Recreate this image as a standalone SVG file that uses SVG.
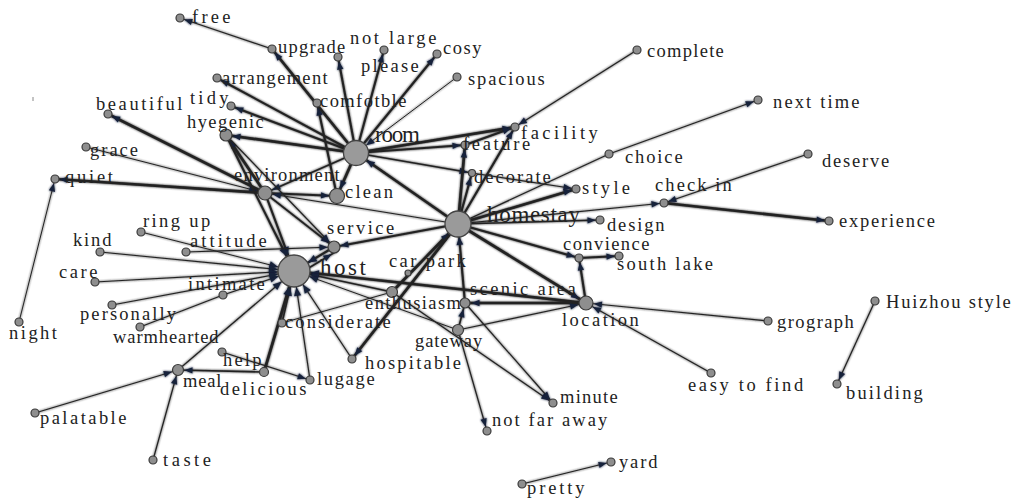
<svg xmlns="http://www.w3.org/2000/svg" width="1014" height="498" viewBox="0 0 1014 498">
<style>
.e{stroke:#222;fill:none;stroke-linecap:round}
.t1{stroke-width:1}
.t12{stroke-width:1.2}
.t15{stroke-width:1.6}
.t2{stroke-width:2.1}
.t25{stroke-width:2.7}
circle{fill:#8e8e8e;stroke:#3a3a3a;stroke-width:1.2}
circle.b{fill:#9a9a9a;stroke:#444;stroke-width:1.3}
text{font-family:"Liberation Serif","DejaVu Serif",serif;font-size:18.5px;fill:#222}
text.big{font-size:23px}
.ah{fill:#17203a}
</style>
<defs>
<filter id="soft" x="-5%" y="-5%" width="110%" height="110%"><feGaussianBlur in="SourceGraphic" stdDeviation="0.9" result="b"/><feMerge><feMergeNode in="b"/><feMergeNode in="SourceGraphic"/></feMerge></filter>
<marker id="a4" markerUnits="userSpaceOnUse" markerWidth="20" markerHeight="10" orient="auto" refX="0" refY="0" style="overflow:visible"><path class="ah" d="M-4.5,0 L-12.5,-3.2 L-12.5,3.2 Z"/></marker>
<marker id="a6" markerUnits="userSpaceOnUse" markerWidth="20" markerHeight="10" orient="auto" refX="0" refY="0" style="overflow:visible"><path class="ah" d="M-6.5,0 L-14.5,-3.2 L-14.5,3.2 Z"/></marker>
<marker id="a8" markerUnits="userSpaceOnUse" markerWidth="20" markerHeight="10" orient="auto" refX="0" refY="0" style="overflow:visible"><path class="ah" d="M-8,0 L-16,-3.2 L-16,3.2 Z"/></marker>
<marker id="a13" markerUnits="userSpaceOnUse" markerWidth="20" markerHeight="10" orient="auto" refX="0" refY="0" style="overflow:visible"><path class="ah" d="M-13,0 L-21,-3.4 L-21,3.4 Z"/></marker>
<marker id="a16" markerUnits="userSpaceOnUse" markerWidth="20" markerHeight="10" orient="auto" refX="0" refY="0" style="overflow:visible"><path class="ah" d="M-16.5,0 L-25,-3.6 L-25,3.6 Z"/></marker>
</defs>
<rect width="1014" height="498" fill="#fff"/>
<line x1="33" y1="97" x2="33" y2="101" stroke="#888" stroke-width="1"/>
<g id="connectors" filter="url(#soft)">
<line class="e t25" x1="356" y1="153" x2="272" y2="49" marker-end="url(#a4)"/>
<line class="e t12" x1="272" y1="49" x2="180" y2="18" marker-end="url(#a4)"/>
<line class="e t2" x1="356" y1="153" x2="338" y2="57" marker-end="url(#a4)"/>
<line class="e t2" x1="356" y1="153" x2="384" y2="50" marker-end="url(#a4)"/>
<line class="e t2" x1="356" y1="153" x2="437" y2="54" marker-end="url(#a4)"/>
<line class="e t1" x1="457" y1="77" x2="356" y2="153" marker-end="url(#a13)"/>
<line class="e t2" x1="356" y1="153" x2="217" y2="78" marker-end="url(#a4)"/>
<line class="e t2" x1="356" y1="153" x2="231" y2="106" marker-end="url(#a4)"/>
<line class="e t25" x1="356" y1="153" x2="226" y2="135" marker-end="url(#a6)"/>
<line class="e t2" x1="337" y1="196" x2="317" y2="103" marker-end="url(#a4)"/>
<line class="e t25" x1="356" y1="153" x2="337" y2="196" marker-end="url(#a8)"/>
<line class="e t15" x1="356" y1="153" x2="265" y2="193" marker-end="url(#a8)"/>
<line class="e t25" x1="356" y1="153" x2="515" y2="127" marker-end="url(#a4)"/>
<line class="e t2" x1="356" y1="153" x2="465" y2="145" marker-end="url(#a4)"/>
<line class="e t15" x1="356" y1="153" x2="472" y2="173" marker-end="url(#a4)"/>
<line class="e t25" x1="458" y1="224" x2="356" y2="153" marker-end="url(#a13)"/>
<line class="e t25" x1="265" y1="193" x2="108" y2="114" marker-end="url(#a4)"/>
<line class="e t1" x1="86" y1="147" x2="265" y2="193" marker-end="url(#a8)"/>
<line class="e t25" x1="265" y1="193" x2="55" y2="179" marker-end="url(#a4)"/>
<line class="e t1" x1="19" y1="322" x2="55" y2="179" marker-end="url(#a4)"/>
<line class="e t25" x1="265" y1="193" x2="226" y2="135" marker-end="url(#a6)"/>
<line class="e t2" x1="265" y1="193" x2="337" y2="196" marker-end="url(#a8)"/>
<line class="e t12" x1="458" y1="224" x2="265" y2="193" marker-end="url(#a8)"/>
<line class="e t2" x1="265" y1="193" x2="294" y2="271" marker-end="url(#a16)"/>
<line class="e t15" x1="265" y1="193" x2="334" y2="247" marker-end="url(#a6)"/>
<line class="e t12" x1="226" y1="135" x2="334" y2="247" marker-end="url(#a6)"/>
<line class="e t2" x1="226" y1="135" x2="294" y2="271" marker-end="url(#a16)"/>
<line class="e t25" x1="458" y1="224" x2="465" y2="145" marker-end="url(#a4)"/>
<line class="e t2" x1="458" y1="224" x2="515" y2="127" marker-end="url(#a4)"/>
<line class="e t12" x1="637" y1="50" x2="515" y2="127" marker-end="url(#a4)"/>
<line class="e t2" x1="465" y1="145" x2="515" y2="127" marker-end="url(#a4)"/>
<line class="e t2" x1="458" y1="224" x2="472" y2="173" marker-end="url(#a4)"/>
<line class="e t12" x1="472" y1="173" x2="576" y2="189" marker-end="url(#a4)"/>
<line class="e t25" x1="458" y1="224" x2="576" y2="189" marker-end="url(#a4)"/>
<line class="e t12" x1="458" y1="224" x2="609" y2="154"/>
<line class="e t12" x1="609" y1="154" x2="758" y2="100" marker-end="url(#a4)"/>
<line class="e t12" x1="458" y1="224" x2="664" y2="203" marker-end="url(#a4)"/>
<line class="e t25" x1="664" y1="203" x2="829" y2="221" marker-end="url(#a4)"/>
<line class="e t12" x1="808" y1="154" x2="664" y2="203" marker-end="url(#a4)"/>
<line class="e t15" x1="458" y1="224" x2="600" y2="220" marker-end="url(#a4)"/>
<line class="e t2" x1="458" y1="224" x2="579" y2="258" marker-end="url(#a4)"/>
<line class="e t2" x1="579" y1="258" x2="619" y2="256" marker-end="url(#a4)"/>
<line class="e t2" x1="586" y1="303" x2="579" y2="258" marker-end="url(#a4)"/>
<line class="e t25" x1="458" y1="224" x2="586" y2="303" marker-end="url(#a8)"/>
<line class="e t2" x1="458" y1="224" x2="334" y2="247" marker-end="url(#a6)"/>
<line class="e t25" x1="392" y1="292" x2="458" y2="224" marker-end="url(#a13)"/>
<line class="e t25" x1="458" y1="224" x2="352" y2="359" marker-end="url(#a4)"/>
<line class="e t2" x1="465" y1="303" x2="458" y2="224" marker-end="url(#a13)"/>
<line class="e t15" x1="458" y1="330" x2="465" y2="303" marker-end="url(#a6)"/>
<line class="e t25" x1="586" y1="303" x2="465" y2="303" marker-end="url(#a6)"/>
<line class="e t12" x1="458" y1="330" x2="586" y2="303" marker-end="url(#a8)"/>
<line class="e t12" x1="711" y1="373" x2="586" y2="303" marker-end="url(#a8)"/>
<line class="e t12" x1="768" y1="321" x2="586" y2="303" marker-end="url(#a8)"/>
<line class="e t25" x1="586" y1="303" x2="294" y2="271" marker-end="url(#a16)"/>
<line class="e t15" x1="392" y1="292" x2="294" y2="271" marker-end="url(#a16)"/>
<line class="e t1" x1="282" y1="323" x2="392" y2="292"/>
<line class="e t12" x1="392" y1="292" x2="553" y2="403" marker-end="url(#a4)"/>
<line class="e t12" x1="465" y1="303" x2="553" y2="403" marker-end="url(#a4)"/>
<line class="e t12" x1="458" y1="330" x2="487" y2="431" marker-end="url(#a4)"/>
<line class="e t1" x1="458" y1="330" x2="294" y2="271" marker-end="url(#a16)"/>
<line class="e t2" x1="334" y1="247" x2="294" y2="271" marker-end="url(#a16)"/>
<line class="e t15" x1="297" y1="275" x2="337" y2="251" marker-end="url(#a6)"/>
<line class="e t1" x1="141" y1="232" x2="294" y2="271" marker-end="url(#a16)"/>
<line class="e t12" x1="186" y1="252" x2="334" y2="247" marker-end="url(#a6)"/>
<line class="e t12" x1="100" y1="252" x2="294" y2="271" marker-end="url(#a16)"/>
<line class="e t12" x1="95" y1="282" x2="294" y2="271" marker-end="url(#a16)"/>
<line class="e t12" x1="223" y1="295" x2="294" y2="271" marker-end="url(#a16)"/>
<line class="e t12" x1="140" y1="327" x2="223" y2="295"/>
<line class="e t12" x1="112" y1="305" x2="294" y2="271" marker-end="url(#a16)"/>
<line class="e t15" x1="282" y1="323" x2="294" y2="271" marker-end="url(#a16)"/>
<line class="e t12" x1="178" y1="370" x2="294" y2="271" marker-end="url(#a16)"/>
<line class="e t25" x1="264" y1="372" x2="294" y2="271" marker-end="url(#a16)"/>
<line class="e t15" x1="264" y1="372" x2="178" y2="370" marker-end="url(#a6)"/>
<line class="e t12" x1="35" y1="413" x2="178" y2="370" marker-end="url(#a6)"/>
<line class="e t12" x1="153" y1="460" x2="178" y2="370" marker-end="url(#a6)"/>
<line class="e t12" x1="222" y1="352" x2="310" y2="380" marker-end="url(#a4)"/>
<line class="e t12" x1="310" y1="380" x2="294" y2="271" marker-end="url(#a16)"/>
<line class="e t12" x1="352" y1="359" x2="294" y2="271" marker-end="url(#a16)"/>
<line class="e t12" x1="875" y1="301" x2="837" y2="384" marker-end="url(#a4)"/>
<line class="e t12" x1="522" y1="484" x2="611" y2="462" marker-end="url(#a4)"/>
</g>
<g id="n-free"><circle cx="180" cy="18" r="4"/><text x="192" y="23" textLength="38.4" lengthAdjust="spacing">free</text></g>
<g id="n-upgrade"><circle cx="272" cy="49" r="4"/><text x="278" y="53" textLength="67.2" lengthAdjust="spacing">upgrade</text></g>
<g id="n-notlarge"><circle cx="384" cy="50" r="4"/><text x="350" y="44" textLength="86.4" lengthAdjust="spacing">not large</text></g>
<g id="n-please"><circle cx="338" cy="57" r="4"/><text x="361" y="72" textLength="57.6" lengthAdjust="spacing">please</text></g>
<g id="n-cosy"><circle cx="437" cy="54" r="4"/><text x="443" y="54" textLength="38.4" lengthAdjust="spacing">cosy</text></g>
<g id="n-spacious"><circle cx="457" cy="77" r="4"/><text x="468" y="85" textLength="76.8" lengthAdjust="spacing">spacious</text></g>
<g id="n-arrangement"><circle cx="217" cy="78" r="4"/><text x="222" y="84" textLength="105.6" lengthAdjust="spacing">arrangement</text></g>
<g id="n-tidy"><circle cx="231" cy="106" r="4"/><text x="190" y="104" textLength="38.4" lengthAdjust="spacing">tidy</text></g>
<g id="n-comfotble"><circle cx="317" cy="103" r="4"/><text x="320" y="107" textLength="86.4" lengthAdjust="spacing">comfotble</text></g>
<g id="n-room"><circle class="b" cx="356" cy="153" r="12.5"/><text class="big" x="375" y="142" textLength="45" lengthAdjust="spacing">room</text></g>
<g id="n-beautiful"><circle cx="108" cy="114" r="4"/><text x="96" y="110" textLength="86.4" lengthAdjust="spacing">beautiful</text></g>
<g id="n-hyegenic"><circle cx="226" cy="135" r="6"/><text x="187" y="128" textLength="76.8" lengthAdjust="spacing">hyegenic</text></g>
<g id="n-grace"><circle cx="86" cy="147" r="4"/><text x="90" y="156" textLength="48" lengthAdjust="spacing">grace</text></g>
<g id="n-quiet"><circle cx="55" cy="179" r="4"/><text x="65" y="183" textLength="48" lengthAdjust="spacing">quiet</text></g>
<g id="n-environment"><circle cx="265" cy="193" r="7"/><text x="234" y="181" textLength="105.6" lengthAdjust="spacing">environment</text></g>
<g id="n-clean"><circle cx="337" cy="196" r="7.5"/><text x="345" y="198" textLength="48" lengthAdjust="spacing">clean</text></g>
<g id="n-facility"><circle cx="515" cy="127" r="4"/><text x="521" y="139" textLength="76.8" lengthAdjust="spacing">facility</text></g>
<g id="n-feature"><circle cx="465" cy="145" r="4"/><text x="463" y="150" textLength="67.2" lengthAdjust="spacing">feature</text></g>
<g id="n-complete"><circle cx="637" cy="50" r="4"/><text x="647" y="57" textLength="76.8" lengthAdjust="spacing">complete</text></g>
<g id="n-nexttime"><circle cx="758" cy="100" r="4"/><text x="773" y="108" textLength="86.4" lengthAdjust="spacing">next time</text></g>
<g id="n-choice"><circle cx="609" cy="154" r="4"/><text x="625" y="163" textLength="57.6" lengthAdjust="spacing">choice</text></g>
<g id="n-decorate"><circle cx="472" cy="173" r="3.5"/><text x="474" y="183" textLength="76.8" lengthAdjust="spacing">decorate</text></g>
<g id="n-style"><circle cx="576" cy="189" r="4"/><text x="582" y="194" textLength="48" lengthAdjust="spacing">style</text></g>
<g id="n-homestay"><circle class="b" cx="458" cy="224" r="13"/><text class="big" x="487" y="222" textLength="93" lengthAdjust="spacing">homestay</text></g>
<g id="n-checkin"><circle cx="664" cy="203" r="4"/><text x="655" y="191" textLength="76.8" lengthAdjust="spacing">check in</text></g>
<g id="n-deserve"><circle cx="808" cy="154" r="4"/><text x="822" y="167" textLength="67.2" lengthAdjust="spacing">deserve</text></g>
<g id="n-experience"><circle cx="829" cy="221" r="4"/><text x="839" y="227" textLength="96" lengthAdjust="spacing">experience</text></g>
<g id="n-design"><circle cx="600" cy="220" r="4"/><text x="607" y="231" textLength="57.6" lengthAdjust="spacing">design</text></g>
<g id="n-convience"><circle cx="579" cy="258" r="4"/><text x="563" y="250" textLength="86.4" lengthAdjust="spacing">convience</text></g>
<g id="n-southlake"><circle cx="619" cy="256" r="4"/><text x="617" y="270" textLength="96" lengthAdjust="spacing">south lake</text></g>
<g id="n-service"><circle cx="334" cy="247" r="6"/><text x="327" y="234" textLength="67.2" lengthAdjust="spacing">service</text></g>
<g id="n-ringup"><circle cx="141" cy="232" r="4"/><text x="143" y="227" textLength="67.2" lengthAdjust="spacing">ring up</text></g>
<g id="n-attitude"><circle cx="186" cy="252" r="4"/><text x="190" y="247" textLength="76.8" lengthAdjust="spacing">attitude</text></g>
<g id="n-kind"><circle cx="100" cy="252" r="4"/><text x="73" y="246" textLength="38.4" lengthAdjust="spacing">kind</text></g>
<g id="n-care"><circle cx="95" cy="282" r="4"/><text x="59" y="278" textLength="38.4" lengthAdjust="spacing">care</text></g>
<g id="n-host"><circle class="b" cx="294" cy="271" r="16"/><text class="big" x="320" y="275" textLength="46" lengthAdjust="spacing">host</text></g>
<g id="n-carpark"><circle cx="408" cy="273" r="3"/><text x="389" y="267" textLength="76.8" lengthAdjust="spacing">car park</text></g>
<g id="n-enthusiasm"><circle cx="392" cy="292" r="5.5"/><text x="365" y="309" textLength="96" lengthAdjust="spacing">enthusiasm</text></g>
<g id="n-scenicarea"><circle cx="465" cy="303" r="5"/><text x="470" y="295" textLength="105.6" lengthAdjust="spacing">scenic area</text></g>
<g id="n-location"><circle cx="586" cy="303" r="7"/><text x="562" y="326" textLength="76.8" lengthAdjust="spacing">location</text></g>
<g id="n-intimate"><circle cx="223" cy="295" r="4"/><text x="188" y="290" textLength="76.8" lengthAdjust="spacing">intimate</text></g>
<g id="n-personally"><circle cx="112" cy="305" r="4"/><text x="80" y="320" textLength="96" lengthAdjust="spacing">personally</text></g>
<g id="n-warmhearted"><circle cx="140" cy="327" r="4"/><text x="113" y="343" textLength="105.6" lengthAdjust="spacing">warmhearted</text></g>
<g id="n-considerate"><circle cx="282" cy="323" r="4"/><text x="285" y="328" textLength="105.6" lengthAdjust="spacing">considerate</text></g>
<g id="n-night"><circle cx="19" cy="322" r="4"/><text x="9" y="339" textLength="48" lengthAdjust="spacing">night</text></g>
<g id="n-gateway"><circle cx="458" cy="330" r="5.5"/><text x="415" y="347" textLength="67.2" lengthAdjust="spacing">gateway</text></g>
<g id="n-grograph"><circle cx="768" cy="321" r="4"/><text x="777" y="328" textLength="76.8" lengthAdjust="spacing">grograph</text></g>
<g id="n-huizhou"><circle cx="875" cy="301" r="4"/><text x="886" y="308" textLength="124.8" lengthAdjust="spacing">Huizhou style</text></g>
<g id="n-help"><circle cx="222" cy="352" r="4"/><text x="223" y="366" textLength="38.4" lengthAdjust="spacing">help</text></g>
<g id="n-hospitable"><circle cx="352" cy="359" r="4"/><text x="365" y="369" textLength="96" lengthAdjust="spacing">hospitable</text></g>
<g id="n-meal"><circle cx="178" cy="370" r="5.5"/><text x="183" y="387" textLength="38.4" lengthAdjust="spacing">meal</text></g>
<g id="n-delicious"><circle cx="264" cy="372" r="4.5"/><text x="220" y="395" textLength="86.4" lengthAdjust="spacing">delicious</text></g>
<g id="n-lugage"><circle cx="310" cy="380" r="4"/><text x="317" y="385" textLength="57.6" lengthAdjust="spacing">lugage</text></g>
<g id="n-easytofind"><circle cx="711" cy="373" r="4"/><text x="688" y="391" textLength="115.2" lengthAdjust="spacing">easy to find</text></g>
<g id="n-building"><circle cx="837" cy="384" r="4"/><text x="846" y="399" textLength="76.8" lengthAdjust="spacing">building</text></g>
<g id="n-minute"><circle cx="553" cy="403" r="4"/><text x="560" y="403" textLength="57.6" lengthAdjust="spacing">minute</text></g>
<g id="n-notfaraway"><circle cx="487" cy="431" r="4"/><text x="492" y="426" textLength="115.2" lengthAdjust="spacing">not far away</text></g>
<g id="n-palatable"><circle cx="35" cy="413" r="4"/><text x="40" y="424" textLength="86.4" lengthAdjust="spacing">palatable</text></g>
<g id="n-taste"><circle cx="153" cy="460" r="4"/><text x="163" y="466" textLength="48" lengthAdjust="spacing">taste</text></g>
<g id="n-yard"><circle cx="611" cy="462" r="4"/><text x="619" y="468" textLength="38.4" lengthAdjust="spacing">yard</text></g>
<g id="n-pretty"><circle cx="522" cy="484" r="4"/><text x="527" y="494" textLength="57.6" lengthAdjust="spacing">pretty</text></g>
</svg>
